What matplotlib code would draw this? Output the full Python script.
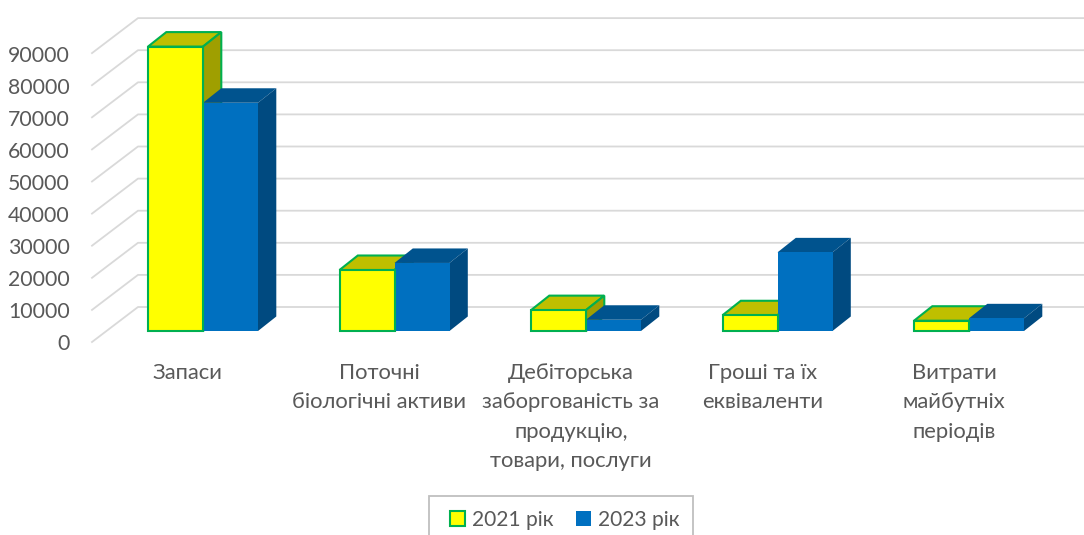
import matplotlib
matplotlib.use('Agg')
import matplotlib.pyplot as plt
from matplotlib.patches import Polygon, Rectangle

plt.rcParams['font.family'] = ['Lato', 'Open Sans', 'DejaVu Sans']

categories = ['Запаси', 'Поточні\nбіологічні активи',
              'Дебіторська\nзаборгованість за\nпродукцію,\nтовари, послуги',
              'Гроші та їх\nеквіваленти', 'Витрати\nмайбутніх\nперіодів']
values_2021 = [88600, 19000, 6500, 4900, 3200]
values_2023 = [71100, 21200, 3500, 24500, 3950]
y_ticks = [0, 10000, 20000, 30000, 40000, 50000, 60000, 70000, 80000, 90000]
series_names = ['2021 рік', '2023 рік']

# pixel scale of the picture: one category = 191.5 px, 10000 = 32.1 px
px_x = 1 / 191.5
px_y = 10000 / 32.1
bar_w = 55 * px_x
depth_x = 18.3 * px_x
depth_y = 14.5 * px_y

fig = plt.figure(figsize=(10.84, 5.35), dpi=100)
ax = fig.add_axes([0, 0, 1, 1])
ax.set_xlim(-203 * px_x, (1084 - 203) * px_x)
ax.set_ylim((331 - 535) * px_y, 331 * px_y)
ax.axis('off')

text_col = '#595959'
grid_col = '#D9D9D9'

# walls: slanted line on the left, then gridline to the right edge
for v in y_ticks:
    x0 = (92 - 203) * px_x
    x1 = (138 - 203) * px_x
    x2 = (1084 - 203) * px_x
    y0 = v - 11 * px_y
    y1 = v + 24 * px_y
    ax.plot([x0, x1, x2], [y0, y1, y1], color=grid_col, lw=1.3, zorder=1)
    ax.text((70 - 203) * px_x, y0 - 2.5 * px_y, str(v), ha='right', va='center',
            color=text_col, fontsize=15.3)


def draw_box(x, v, face, top, side, edge, lw, z):
    l = x
    r = x + bar_w
    ax.add_patch(Polygon([(l, v), (r, v), (r + depth_x, v + depth_y), (l + depth_x, v + depth_y)],
                         facecolor=top, edgecolor=edge, lw=lw, zorder=z))
    ax.add_patch(Polygon([(r, 0), (r + depth_x, depth_y), (r + depth_x, v + depth_y), (r, v)],
                         facecolor=side, edgecolor=edge, lw=lw, zorder=z))


for i in range(len(categories)):
    z = 2 + i
    draw_box(i - bar_w, values_2021[i], '#FFFF00', '#BFBF00', '#9F9F00', '#00B050', 1.5, z)
    draw_box(i, values_2023[i], '#0070C0', '#00538E', '#004A80', 'none', 0, z + 0.1)
    ax.bar(i, values_2023[i], bar_w, align='edge', color='#0070C0', zorder=z + 0.2)
    ax.bar(i - bar_w, values_2021[i], bar_w, align='edge', color='#FFFF00',
           edgecolor='#00B050', lw=1.5, zorder=z + 0.3)

# category labels sit a little left of the group centre
for i, name in enumerate(categories):
    ax.text(i - 15 * px_x, (331 - 363) * px_y, name, ha='center', va='top',
            color=text_col, fontsize=15.8, linespacing=1.58)

# legend frame runs off the bottom of the picture
ax.add_patch(Rectangle(((429 - 203) * px_x, (331 - 545) * px_y), 264 * px_x, 49 * px_y,
                       fill=False, edgecolor='#BFBFBF', lw=1.3, clip_on=False, zorder=1))
h1 = Rectangle((0, 0), 1, 1, facecolor='#FFFF00', edgecolor='#00B050', lw=1.5)
h2 = Rectangle((0, 0), 1, 1, facecolor='#0070C0', edgecolor='none')
ax.legend([h1, h2], series_names, loc='center', bbox_to_anchor=(565 / 1084, 1 - 520 / 535),
          ncol=2, frameon=False, fontsize=15.1, labelcolor=text_col, handlelength=0.7,
          handleheight=0.7, handletextpad=0.35, columnspacing=1.05)

plt.savefig('out.png', dpi=100)
